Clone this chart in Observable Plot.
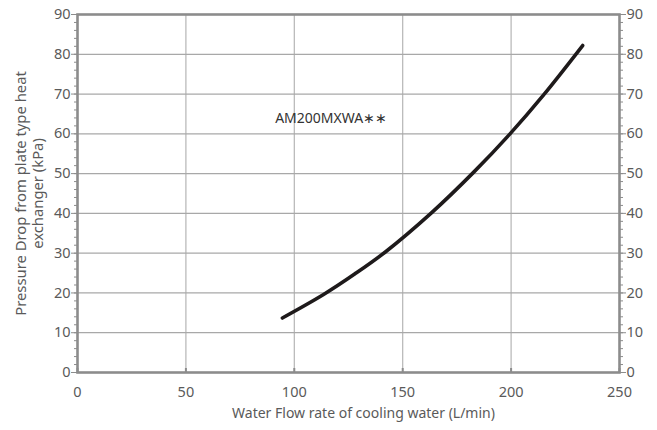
<!DOCTYPE html>
<html><head><meta charset="utf-8">
<script src="https://cdn.jsdelivr.net/npm/d3@7"></script>
<script src="https://cdn.jsdelivr.net/npm/@observablehq/plot@0.6"></script>
<style>
html,body{margin:0;padding:0;background:#fff;}
#chart{width:657px;height:430px;}
svg{font-family:"Noto Sans",sans-serif;}
</style>
</head><body><div id="chart"></div>
<script>
// Curve: water flow (L/min) vs pressure drop (kPa)
const flow     = [94.5, 113.5, 128, 142, 163, 183, 199.5, 215, 233];
const pressure = [13.7, 19.6, 24.8, 30.3, 40.0, 50.5, 60.0, 69.8, 82.2];
const xTicks = [0, 50, 100, 150, 200, 250];
const yTicks = [0, 10, 20, 30, 40, 50, 60, 70, 80, 90];
const yMinor = d3.range(0, 91, 2);
const seriesName = ["AM200MXWA\u2217\u2217"];
const labelAt = {x: [117], y: [63.8]};
const xTitle = "Water Flow rate of cooling water (L/min)";
const yTitle = "Pressure Drop from plate type heat\nexchanger (kPa)";

const curve = flow.map((f, i) => ({flow: f, pressure: pressure[i]}));
const note = seriesName.map((t, i) => ({x: labelAt.x[i], y: labelAt.y[i], t}));

const axisColor = "#8c8c8c";
const textColor = "#5a5a5a";

const chart = Plot.plot({
  width: 657,
  height: 430,
  marginLeft: 77,
  marginRight: 38,
  marginTop: 14,
  marginBottom: 58,
  style: {fontSize: "14.5px", color: textColor, background: "#fff"},
  x: {domain: [0, 250]},
  y: {domain: [0, 90]},
  marks: [
    Plot.gridX(xTicks.slice(1, -1), {stroke: "#b5b5b5", strokeOpacity: 1, strokeWidth: 1.2}),
    Plot.gridY(yTicks.slice(1, -1), {stroke: "#a8a8a8", strokeOpacity: 1, strokeWidth: 1.2}),
    // minor ticks left & right
    Plot.axisY(yMinor, {anchor: "left", tickSize: 3, text: null, stroke: axisColor}),
    Plot.axisY(yMinor, {anchor: "right", tickSize: 3, text: null, stroke: axisColor}),
    // major ticks and labels
    Plot.axisY(yTicks, {anchor: "left", tickSize: 6, tickPadding: 1, stroke: axisColor, fill: textColor, label: null}),
    Plot.axisY(yTicks, {anchor: "right", tickSize: 6, tickPadding: 1, stroke: axisColor, fill: textColor, label: null}),
    Plot.axisX(xTicks, {anchor: "bottom", tickSize: -4, tickPadding: 18, stroke: axisColor, strokeWidth: 2, fill: textColor, label: null}),
    Plot.frame({stroke: axisColor, strokeWidth: 2.6}),
    Plot.line(curve, {x: "flow", y: "pressure", curve: "catmull-rom", stroke: "#1e1a1b", strokeWidth: 3.6, strokeLinecap: "round"}),
    Plot.text(note, {x: "x", y: "y", text: "t", fontSize: 14, fill: "#333", textAnchor: "middle"}),
    Plot.text([xTitle], {frameAnchor: "bottom", dy: 45, dx: 15, textAnchor: "middle", fill: textColor, fontSize: 14}),
    Plot.text([yTitle], {frameAnchor: "left", dx: -48, rotate: -90, textAnchor: "middle", fill: textColor, fontSize: 14.8, lineHeight: 1.15})
  ]
});
document.getElementById("chart").appendChild(chart);
</script>
</body></html>
